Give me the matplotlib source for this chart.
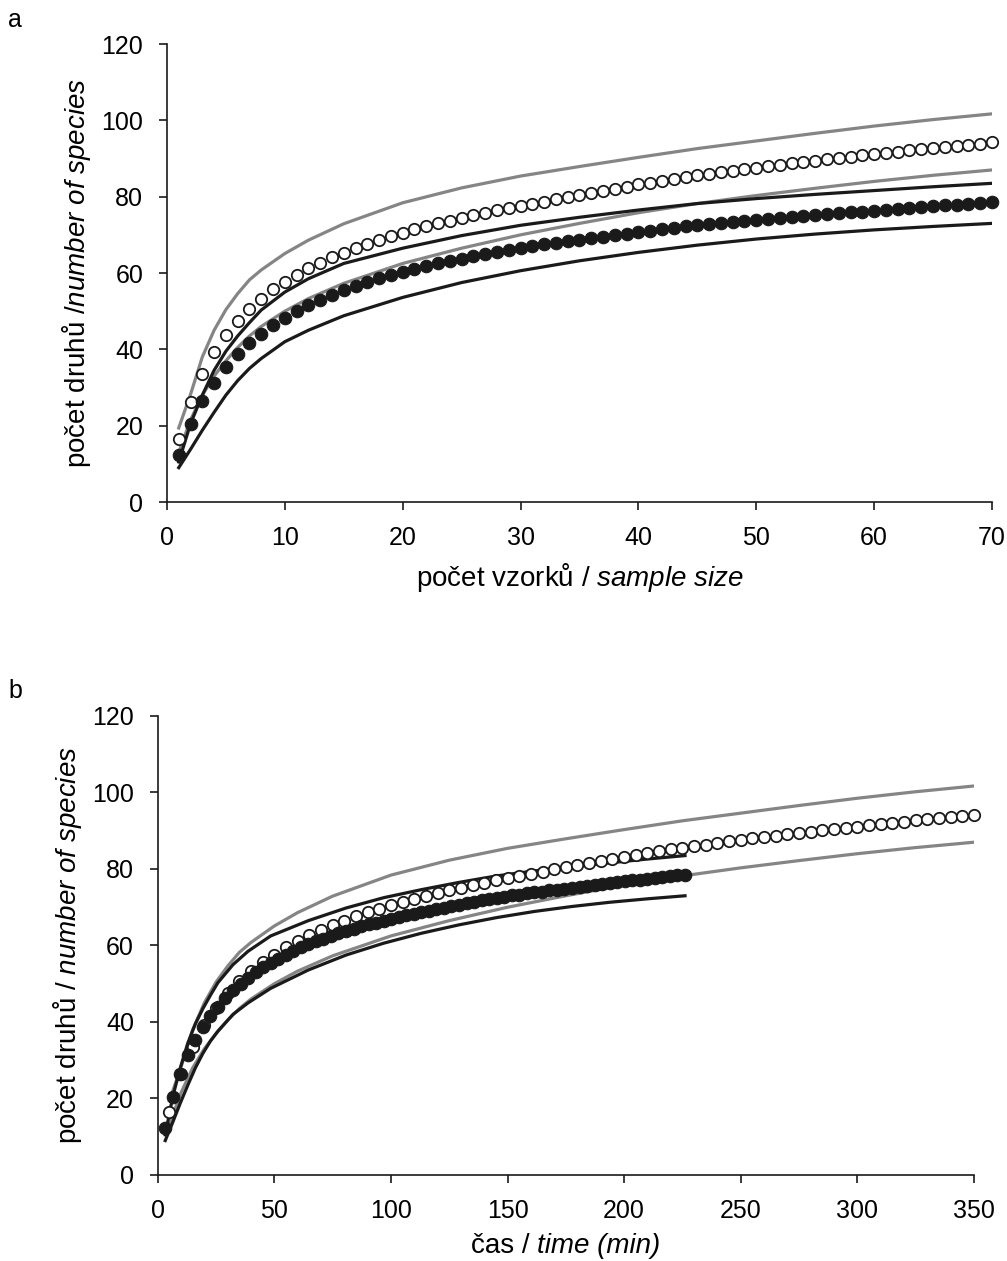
import matplotlib.pyplot as plt
from matplotlib.offsetbox import AnnotationBbox, HPacker, TextArea
import numpy as np

plt.rcParams['font.family'] = 'Liberation Sans'
plt.rcParams['mathtext.fontset'] = 'custom'
plt.rcParams['mathtext.rm'] = 'Liberation Sans'
plt.rcParams['mathtext.it'] = 'Liberation Sans:italic'

# sample index (1..70)
samples = np.arange(1, 71)

# observed species counts per number of samples
open_species = [
    16.4, 26.3, 33.5, 39.2, 43.7, 47.5, 50.6, 53.3, 55.7, 57.6,
    59.5, 61.2, 62.7, 64.1, 65.3, 66.5, 67.6, 68.7, 69.6, 70.5,
    71.4, 72.2, 73.0, 73.7, 74.4, 75.1, 75.8, 76.4, 77.0, 77.6,
    78.2, 78.7, 79.3, 79.9, 80.5, 81.0, 81.6, 82.1, 82.6, 83.2,
    83.7, 84.2, 84.7, 85.2, 85.6, 86.0, 86.4, 86.8, 87.2, 87.6,
    88.0, 88.3, 88.7, 89.1, 89.4, 89.8, 90.1, 90.5, 90.8, 91.1,
    91.5, 91.8, 92.1, 92.4, 92.7, 93.0, 93.3, 93.6, 93.9, 94.2,
]
filled_species = [
    12.3, 20.4, 26.5, 31.3, 35.3, 38.8, 41.6, 44.0, 46.3, 48.3,
    50.0, 51.6, 53.0, 54.3, 55.5, 56.6, 57.6, 58.6, 59.5, 60.3,
    61.1, 61.8, 62.5, 63.2, 63.8, 64.4, 65.0, 65.5, 66.0, 66.5,
    67.0, 67.5, 67.9, 68.3, 68.7, 69.1, 69.5, 69.9, 70.3, 70.7,
    71.1, 71.5, 71.8, 72.2, 72.5, 72.8, 73.1, 73.3, 73.6, 73.9,
    74.1, 74.4, 74.6, 74.9, 75.1, 75.4, 75.6, 75.9, 76.1, 76.3,
    76.6, 76.8, 77.0, 77.2, 77.5, 77.7, 77.9, 78.1, 78.3, 78.5,
]

# confidence limits, read at these sample counts
ci_samples = np.array([1, 2, 3, 4, 5, 6, 7, 8, 10, 12, 15, 20, 25, 30, 35, 40, 45, 50, 55, 60, 65, 70])
open_upper = [19.4, 28.2, 38.0, 45.0, 50.4, 54.6, 58.2, 60.8, 65.1, 68.6, 72.9, 78.4, 82.3, 85.4,
              87.9, 90.3, 92.6, 94.6, 96.6, 98.5, 100.2, 101.7]
open_lower = [13.0, 21.5, 28.0, 33.0, 37.0, 40.5, 43.5, 46.0, 50.0, 53.3, 57.3, 62.5, 66.5, 70.0,
              73.0, 75.8, 78.2, 80.3, 82.2, 84.0, 85.6, 87.0]
filled_upper = [10.5, 20.5, 28.0, 34.5, 39.5, 43.5, 47.0, 50.3, 55.0, 58.5, 62.5, 66.5, 69.8, 72.5,
                74.6, 76.5, 78.2, 79.5, 80.6, 81.6, 82.6, 83.5]
filled_lower = [9.0, 13.8, 18.8, 23.5, 28.0, 31.8, 35.0, 37.6, 42.0, 45.0, 48.8, 53.6, 57.5, 60.6,
                63.2, 65.4, 67.3, 68.9, 70.2, 71.3, 72.2, 73.0]

# mean sampling time per sample (min)
open_min_per_sample = 5.0
filled_min_per_sample = 3.23

GRAY = '#858585'
BLACK = '#1a1a1a'
TICK_FS = 18
LABEL_FS = 20


def draw(ax, x_open, x_filled, x_ci_open, x_ci_filled):
    ax.plot(x_ci_open, open_upper, color=GRAY, lw=2.3, zorder=2)
    ax.plot(x_ci_open, open_lower, color=GRAY, lw=2.3, zorder=2)
    ax.plot(x_ci_filled, filled_upper, color=BLACK, lw=2.3, zorder=3)
    ax.plot(x_ci_filled, filled_lower, color=BLACK, lw=2.3, zorder=3)
    ax.plot(x_open, open_species, 'o', ms=8.2, mfc='white', mec=BLACK, mew=1.3,
            zorder=4, clip_on=False)
    ax.plot(x_filled, filled_species, 'o', ms=9, mfc=BLACK, mec=BLACK, mew=0.8,
            zorder=5, clip_on=False)


def style(ax, xmax, xstep):
    ax.set_xlim(0, xmax)
    ax.set_ylim(0, 120)
    ax.set_xticks(np.arange(0, xmax + 1, xstep))
    ax.set_yticks(np.arange(0, 121, 20))
    for side in ['top', 'right']:
        ax.spines[side].set_visible(False)
    for side in ['left', 'bottom']:
        ax.spines[side].set_linewidth(1.2)
        ax.spines[side].set_color(BLACK)
    ax.tick_params(direction='out', length=6, width=1.2, color=BLACK,
                   labelsize=TICK_FS, pad=11)


fig = plt.figure(figsize=(10.07, 12.61), dpi=100)

ax_a = fig.add_axes([0.1658, 0.6019, 0.8193, 0.3632])
draw(ax_a, samples, samples, ci_samples, ci_samples)
style(ax_a, 70, 10)
ax_a.set_xlabel(r'počet vzorků / $\mathit{sample\ size}$', fontsize=LABEL_FS, labelpad=8)
ax_a.set_ylabel(r'počet druhů /$\mathit{number\ of\ species}$', fontsize=LABEL_FS, labelpad=6)

ax_b = fig.add_axes([0.1566, 0.0682, 0.8106, 0.3640])
draw(ax_b, samples * open_min_per_sample, samples * filled_min_per_sample,
     ci_samples * open_min_per_sample, ci_samples * filled_min_per_sample)
style(ax_b, 350, 50)
ax_b.set_ylabel(r'počet druhů / $\mathit{number\ of\ species}$', fontsize=LABEL_FS, labelpad=6)

# x label of panel b: upright + italic parts (parentheses italic too)
xlab = HPacker(children=[
    TextArea('čas / ', textprops=dict(fontsize=LABEL_FS, color='black')),
    TextArea('time (min)', textprops=dict(fontsize=LABEL_FS, style='italic', color='black')),
], align='baseline', pad=0, sep=0)
ax_b.add_artist(AnnotationBbox(xlab, (0.5, -0.155), xycoords='axes fraction',
                               box_alignment=(0.5, 0.5), frameon=False,
                               annotation_clip=False))

fig.text(0.008, 0.984, 'a', fontsize=TICK_FS, ha='left', va='center')
fig.text(0.008, 0.452, 'b', fontsize=TICK_FS, ha='left', va='center')

fig.savefig('out.png', dpi=100)
